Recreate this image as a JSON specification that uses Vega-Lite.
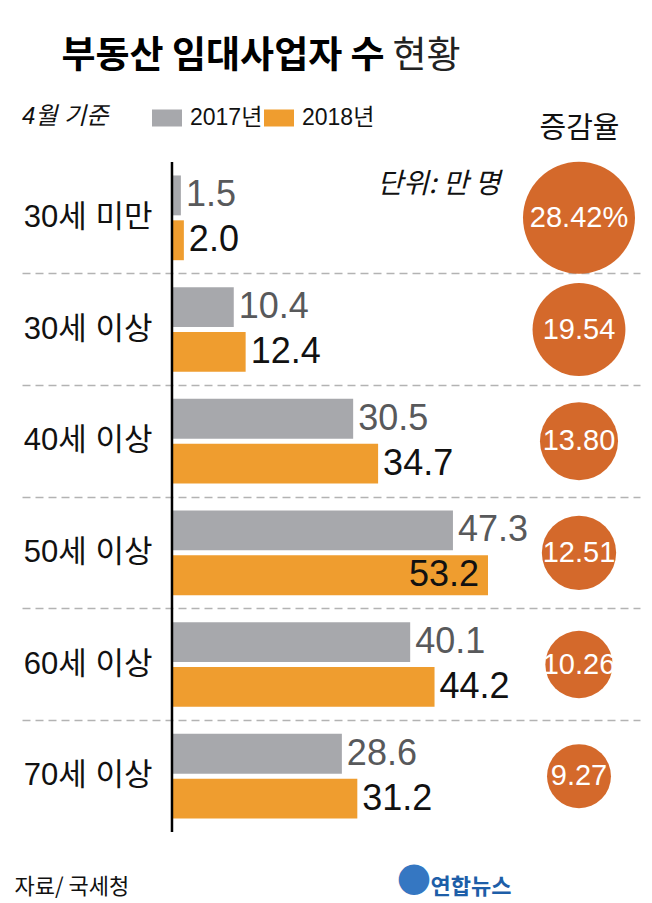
{
  "$schema": "https://vega.github.io/schema/vega-lite/v6.json",
  "width": 618,
  "height": 670,
  "autosize": {"type": "none"},
  "padding": {"left": 22, "top": 162, "right": 12, "bottom": 71},
  "background": "white",
  "datasets": {
    "bars": [
      {"age": "30세 미만", "year": "2017", "value": 1.5},
      {"age": "30세 미만", "year": "2018", "value": 2.0},
      {"age": "30세 이상", "year": "2017", "value": 10.4},
      {"age": "30세 이상", "year": "2018", "value": 12.4},
      {"age": "40세 이상", "year": "2017", "value": 30.5},
      {"age": "40세 이상", "year": "2018", "value": 34.7},
      {"age": "50세 이상", "year": "2017", "value": 47.3},
      {"age": "50세 이상", "year": "2018", "value": 53.2},
      {"age": "60세 이상", "year": "2017", "value": 40.1},
      {"age": "60세 이상", "year": "2018", "value": 44.2},
      {"age": "70세 이상", "year": "2017", "value": 28.6},
      {"age": "70세 이상", "year": "2018", "value": 31.2}
    ],
    "rates": [
      {"age": "30세 미만", "rate": 28.42, "label": "28.42%"},
      {"age": "30세 이상", "rate": 19.54, "label": "19.54"},
      {"age": "40세 이상", "rate": 13.80, "label": "13.80"},
      {"age": "50세 이상", "rate": 12.51, "label": "12.51"},
      {"age": "60세 이상", "rate": 10.26, "label": "10.26"},
      {"age": "70세 이상", "rate": 9.27, "label": "9.27"}
    ]
  },
  "layer": [
    {
      "data": {"name": "bars"},
      "mark": {"type": "bar"},
      "encoding": {
        "y": {
          "field": "age", "type": "nominal",
          "sort": ["30세 미만", "30세 이상", "40세 이상", "50세 이상", "60세 이상", "70세 이상"],
          "scale": {"paddingInner": 0, "paddingOuter": 0},
          "axis": {
            "orient": "left",
            "title": "단위: 만 명",
            "titleAngle": 0,
            "titleX": 478,
            "titleY": 30,
            "titleAlign": "right",
            "titleBaseline": "alphabetic",
            "titleFont": "Noto Sans CJK KR",
            "titleFontSize": 28,
            "titleFontWeight": "normal",
            "titleFontStyle": "italic",
            "titleColor": "#111111",
            "domain": false,
            "ticks": false,
            "labelPadding": -130,
            "labelAlign": "right",
            "labelBaseline": "middle",
            "labelFont": "Liberation Sans, Noto Sans CJK KR",
            "labelFontSize": 31,
            "labelColor": "#111111",
            "grid": true,
            "bandPosition": 1,
            "gridColor": "#b3b3b3",
            "gridWidth": 1.5,
            "gridDash": [8, 5],
            "gridOpacity": {"condition": {"test": "datum.value === '70세 이상'", "value": 0}, "value": 1}
          }
        },
        "yOffset": {
          "field": "year", "type": "nominal",
          "scale": {"paddingInner": 0.111, "paddingOuter": 0.3}
        },
        "x": {
          "field": "value", "type": "quantitative", "stack": null,
          "scale": {"domain": [-25.25, 78.79], "nice": false, "zero": false},
          "axis": {
            "orient": "bottom",
            "title": "자료/ 국세청",
            "titleX": -8,
            "titleY": 61,
            "titleAlign": "left",
            "titleBaseline": "alphabetic",
            "titleFont": "Noto Sans CJK KR",
            "titleFontSize": 22,
            "titleFontWeight": "normal",
            "titleColor": "#111111",
            "labels": false,
            "ticks": false,
            "domain": false,
            "grid": false
          }
        },
        "color": {
          "field": "year", "type": "nominal",
          "scale": {"domain": ["2017", "2018"], "range": ["#A7A8AC", "#EF9D2F"]},
          "legend": {
            "orient": "none",
            "legendX": 0,
            "legendY": -59,
            "direction": "horizontal",
            "title": "4월 기준",
            "titleOrient": "left",
            "titleAnchor": "middle",
            "titleBaseline": "middle",
            "titlePadding": 43,
            "titleFont": "Liberation Sans, Noto Sans CJK KR",
            "titleFontSize": 24,
            "titleFontStyle": "italic",
            "titleFontWeight": "normal",
            "titleColor": "#111111",
            "symbolType": "M-1,-0.567H1V0.567H-1Z",
            "symbolSize": 900,
            "symbolStrokeWidth": 0,
            "symbolOpacity": 1,
            "labelExpr": "datum.label + '년'",
            "labelFont": "Liberation Sans, Noto Sans CJK KR",
            "labelFontSize": 23,
            "labelColor": "#111111",
            "labelOffset": 8,
            "columnPadding": 1
          }
        }
      }
    },
    {
      "data": {"name": "bars"},
      "transform": [{"filter": "datum.value < 50"}],
      "mark": {"type": "text", "align": "left", "baseline": "middle", "dx": 5, "font": "Liberation Sans", "fontSize": 36},
      "encoding": {
        "y": {"field": "age", "type": "nominal", "sort": ["30세 미만", "30세 이상", "40세 이상", "50세 이상", "60세 이상", "70세 이상"], "axis": null},
        "yOffset": {"field": "year", "type": "nominal"},
        "x": {
          "field": "value", "type": "quantitative",
          "axis": {
            "orient": "top",
            "title": "부동산 임대사업자 수",
            "titleX": 39,
            "titleY": -95,
            "titleAlign": "left",
            "titleBaseline": "alphabetic",
            "titleFont": "Noto Sans CJK KR",
            "titleFontSize": 37,
            "titleFontWeight": "bold",
            "titleColor": "#000000",
            "labels": false,
            "ticks": false,
            "domain": false,
            "grid": false
          }
        },
        "text": {"field": "value", "type": "quantitative", "format": ".1f"},
        "color": {"condition": {"test": "datum.year === '2017'", "value": "#58595b"}, "value": "#111111"}
      }
    },
    {
      "data": {"name": "bars"},
      "transform": [{"filter": "datum.value >= 50"}],
      "mark": {"type": "text", "align": "right", "baseline": "middle", "dx": -9, "font": "Liberation Sans", "fontSize": 36},
      "encoding": {
        "y": {"field": "age", "type": "nominal", "sort": ["30세 미만", "30세 이상", "40세 이상", "50세 이상", "60세 이상", "70세 이상"], "axis": null},
        "yOffset": {"field": "year", "type": "nominal"},
        "x": {"field": "value", "type": "quantitative", "axis": null},
        "text": {"field": "value", "type": "quantitative", "format": ".1f"},
        "color": {"value": "#111111"}
      }
    },
    {
      "data": {"values": [{}]},
      "mark": {"type": "rule", "color": "#000000", "strokeWidth": 2.5},
      "encoding": {
        "x": {
          "datum": 0, "type": "quantitative",
          "axis": {
            "orient": "top",
            "title": "현황",
            "titleX": 370,
            "titleY": -95,
            "titleAlign": "left",
            "titleBaseline": "alphabetic",
            "titleFont": "Noto Sans CJK KR",
            "titleFontSize": 37,
            "titleFontWeight": "normal",
            "titleColor": "#222222",
            "labels": false,
            "ticks": false,
            "domain": false,
            "grid": false
          }
        }
      }
    },
    {
      "data": {"name": "rates"},
      "mark": {"type": "circle", "opacity": 1, "color": "#D4692B"},
      "encoding": {
        "y": {
          "field": "age", "type": "nominal",
          "sort": ["30세 미만", "30세 이상", "40세 이상", "50세 이상", "60세 이상", "70세 이상"],
          "axis": {
            "orient": "right",
            "title": "증감율",
            "titleAngle": 0,
            "titleX": -61,
            "titleY": -25,
            "titleAlign": "center",
            "titleBaseline": "alphabetic",
            "titleFont": "Noto Sans CJK KR",
            "titleFontSize": 29,
            "titleFontWeight": "normal",
            "titleColor": "#111111",
            "labels": false,
            "ticks": false,
            "domain": false,
            "grid": false
          }
        },
        "x": {
          "datum": 68.52, "type": "quantitative",
          "axis": {
            "orient": "bottom",
            "title": "연합뉴스",
            "titleX": 408,
            "titleY": 61,
            "titleAlign": "left",
            "titleBaseline": "alphabetic",
            "titleFont": "Noto Sans CJK KR",
            "titleFontSize": 22,
            "titleFontWeight": "bold",
            "titleColor": "#1d5ea8",
            "labels": false,
            "ticks": false,
            "domain": false,
            "grid": false
          }
        },
        "size": {
          "field": "rate", "type": "quantitative",
          "scale": {"type": "linear", "domain": [0, 28.42], "range": [0, 12544]},
          "legend": null
        }
      }
    },
    {
      "data": {"name": "rates"},
      "mark": {"type": "text", "align": "center", "baseline": "middle", "color": "white", "font": "Liberation Sans", "fontSize": 29},
      "encoding": {
        "y": {"field": "age", "type": "nominal", "sort": ["30세 미만", "30세 이상", "40세 이상", "50세 이상", "60세 이상", "70세 이상"], "axis": null},
        "x": {
          "datum": 68.52, "type": "quantitative",
          "axis": {
            "orient": "bottom",
            "title": "●",
            "titleX": 374,
            "titleY": 57,
            "titleAlign": "left",
            "titleBaseline": "alphabetic",
            "titleFont": "DejaVu Sans",
            "titleFontSize": 40,
            "titleFontWeight": "normal",
            "titleColor": "#3577c2",
            "labels": false,
            "ticks": false,
            "domain": false,
            "grid": false
          }
        },
        "text": {"field": "label", "type": "nominal"}
      }
    }
  ],
  "resolve": {"axis": {"x": "independent", "y": "independent"}},
  "config": {"view": {"stroke": null}}
}
